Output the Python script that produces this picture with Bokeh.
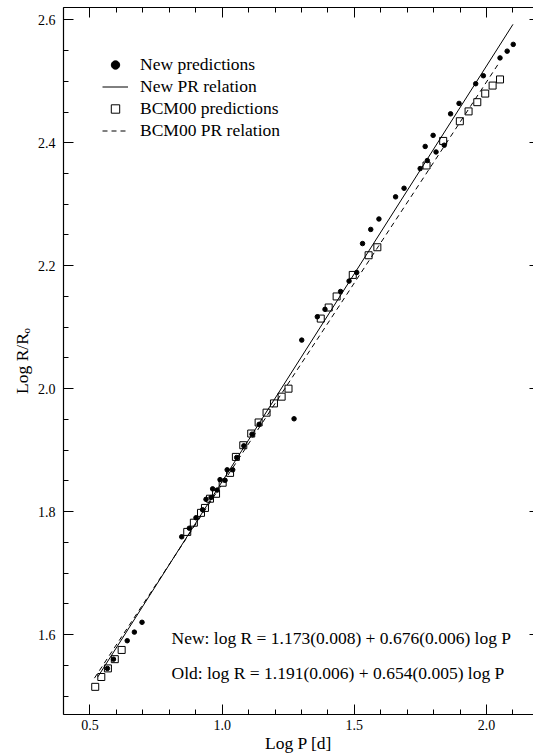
import numpy as np
from bokeh.plotting import figure
from bokeh.models import (Range1d, LinearAxis, FixedTicker, Label, Legend, LegendItem)
from bokeh.embed import file_html
from bokeh.resources import INLINE

# ---------------- data ----------------
new_x = [2.101, 2.078, 2.051, 1.988, 1.959, 1.896, 1.864, 1.840, 1.809, 1.798,
         1.776, 1.768, 1.749, 1.688, 1.656, 1.593, 1.562, 1.531, 1.509, 1.480,
         1.448, 1.389, 1.360, 1.301, 1.272,
         1.140, 1.113, 1.082, 1.055, 1.040, 1.019, 1.011, 0.992, 0.981, 0.964,
         0.958, 0.939, 0.926, 0.901, 0.876, 0.847,
         0.697, 0.668, 0.641, 0.589, 0.566]
new_y = [2.560, 2.549, 2.538, 2.509, 2.496, 2.464, 2.447, 2.396, 2.385, 2.412,
         2.371, 2.394, 2.358, 2.326, 2.312, 2.276, 2.259, 2.236, 2.189, 2.175,
         2.158, 2.129, 2.117, 2.079, 1.951,
         1.942, 1.926, 1.907, 1.888, 1.868, 1.868, 1.851, 1.852, 1.835, 1.837,
         1.823, 1.820, 1.803, 1.790, 1.773, 1.759,
         1.620, 1.604, 1.590, 1.560, 1.545]

old_x = [2.051, 2.023, 1.995, 1.965, 1.932, 1.899, 1.836, 1.773, 1.587, 1.554,
         1.494, 1.433, 1.403, 1.373, 1.251, 1.225, 1.196, 1.168, 1.138, 1.110,
         1.080, 1.052, 1.030, 1.002, 0.977, 0.954, 0.935, 0.920, 0.893, 0.868,
         0.620, 0.594, 0.568, 0.543, 0.520]
old_y = [2.503, 2.493, 2.480, 2.466, 2.451, 2.435, 2.403, 2.363, 2.230, 2.217,
         2.185, 2.150, 2.132, 2.114, 2.000, 1.987, 1.976, 1.961, 1.945, 1.927,
         1.908, 1.889, 1.863, 1.847, 1.829, 1.821, 1.806, 1.798, 1.782, 1.767,
         1.575, 1.560, 1.545, 1.531, 1.515]

# PR relations: log R = a + b log P
new_coef = [1.173, 0.676]
new_err = [0.008, 0.006]
new_span = [0.53, 2.10]
old_coef = [1.191, 0.654]
old_err = [0.006, 0.005]
old_span = [0.517, 2.05]

x_ticks = [0.5, 1.0, 1.5, 2.0]
x_tick_labels = ["0.5", "1.0", "1.5", "2.0"]
y_ticks = [1.6, 1.8, 2.0, 2.2, 2.4, 2.6]
y_tick_labels = ["1.6", "1.8", "2.0", "2.2", "2.4", "2.6"]

legend_labels = ["New predictions", "New PR relation", "BCM00 predictions", "BCM00 PR relation"]
x_title = "Log P [d]"
y_title = "Log R/R\u2092"

FONT = "Liberation Serif"

# ---------------- figure ----------------
p = figure(width=533, height=755, x_range=Range1d(0.4, 2.1776), y_range=Range1d(1.47, 2.62),
           output_backend="svg", toolbar_location=None,
           x_axis_type=None, y_axis_type=None,
           min_border_left=63, min_border_right=0, min_border_top=7, min_border_bottom=41)
p.outline_line_color = None
p.background_fill_color = "white"
p.border_fill_color = "white"
p.xgrid.visible = False
p.ygrid.visible = False

x_minor = [float(v) for v in np.round(np.arange(0.4, 2.21, 0.1), 2)]
y_minor = [float(v) for v in np.round(np.arange(1.45, 2.651, 0.05), 2)]


def style_ticks(ax, tick_in, minor_in, line):
    ax.major_tick_in = tick_in
    ax.major_tick_out = 0
    ax.minor_tick_in = minor_in
    ax.minor_tick_out = 0
    ax.major_tick_line_color = "black"
    ax.minor_tick_line_color = "black"
    ax.axis_line_color = "black" if line else None
    ax.axis_line_width = 1.2
    return ax


def labelled_axis(ticks, minor, labels, title, label_standoff, title_standoff):
    ax = LinearAxis(ticker=FixedTicker(ticks=ticks, minor_ticks=minor))
    ax.major_label_overrides = {t: l for t, l in zip(ticks, labels)}
    style_ticks(ax, 10, 5, True)
    ax.major_label_text_font = FONT
    ax.major_label_text_font_size = "14px"
    ax.major_label_text_color = "black"
    ax.major_label_standoff = label_standoff
    ax.axis_label = title
    ax.axis_label_text_font = FONT
    ax.axis_label_text_font_size = "17.5px"
    ax.axis_label_text_font_style = "normal"
    ax.axis_label_text_color = "black"
    ax.axis_label_standoff = title_standoff
    return ax


def bare_axis(positions, length, line):
    # tick marks only (drawn as minor ticks so that no labels are produced)
    ax = LinearAxis(ticker=FixedTicker(ticks=[], minor_ticks=positions))
    style_ticks(ax, 0, length, line)
    return ax


p.add_layout(labelled_axis(x_ticks, x_minor, x_tick_labels, x_title, 5, 0), "below")
p.add_layout(labelled_axis(y_ticks, y_minor, y_tick_labels, y_title, 8, 3), "left")
p.add_layout(bare_axis(x_minor, 5, True), "above")
p.add_layout(bare_axis(x_ticks, 10, False), "above")
p.add_layout(bare_axis(y_ticks, 4, False), "right")

# relations
nx = np.array(new_span)
ox = np.array(old_span)
r_new = p.line(nx, new_coef[0] + new_coef[1] * nx, line_color="black", line_width=1)
r_old = p.line(ox, old_coef[0] + old_coef[1] * ox, line_color="black", line_width=1, line_dash="5 4")

r_sq = p.scatter(old_x, old_y, marker="square", size=7, fill_color=None, line_color="black", line_width=1)
r_dot = p.scatter(new_x, new_y, marker="circle", size=4.5, fill_color="black", line_color="black")

legend = Legend(items=[LegendItem(label=legend_labels[0], renderers=[r_dot]),
                       LegendItem(label=legend_labels[1], renderers=[r_new]),
                       LegendItem(label=legend_labels[2], renderers=[r_sq]),
                       LegendItem(label=legend_labels[3], renderers=[r_old])],
                location=(39, 573), padding=0, margin=0, spacing=1,
                glyph_width=26, glyph_height=21, label_height=21, label_standoff=12,
                border_line_color=None, background_fill_alpha=0,
                label_text_font=FONT, label_text_font_size="17.5px", label_text_color="black")
p.add_layout(legend, "center")

eq_new = "New: log R = %.3f(%.3f) + %.3f(%.3f) log P" % (new_coef[0], new_err[0], new_coef[1], new_err[1])
eq_old = "Old: log R = %.3f(%.3f) + %.3f(%.3f) log P" % (old_coef[0], old_err[0], old_coef[1], old_err[1])
for txt, yy in [(eq_new, 1.5944), (eq_old, 1.5383)]:
    p.add_layout(Label(x=0.8085, y=yy, text=txt, text_font=FONT, text_font_size="17.5px",
                       text_align="left", text_baseline="middle", text_color="black"))

open("out.html", "w").write(file_html(p, INLINE))
